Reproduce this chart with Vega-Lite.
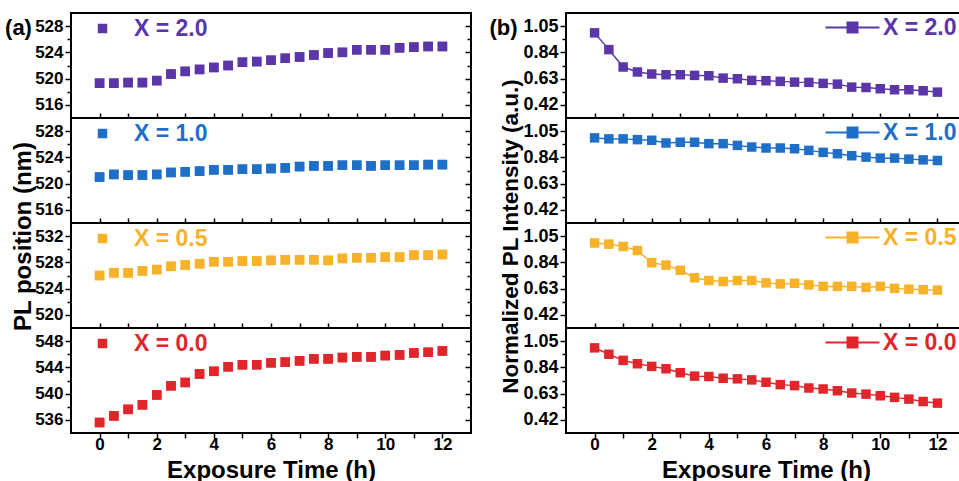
{
"$schema": "https://vega.github.io/schema/vega-lite/v6.json",
"background": "white",
"padding": {"left": 3, "top": 12, "right": 0, "bottom": 0},
"config": {
 "font": "Liberation Sans",
 "view": {"stroke": "#000", "strokeWidth": 2},
 "axis": {"domain": false, "grid": false, "tickColor": "#000", "tickWidth": 1.5, "labelFont": "Liberation Sans", "labelFontSize": 17, "labelFontWeight": "bold", "labelColor": "#000", "labelPadding": 2, "titleFont": "Liberation Sans", "titleFontSize": 24, "titleFontWeight": "bold", "titleColor": "#000"},
 "legend": {"orient": "none", "title": null, "padding": 0, "labelFont": "Liberation Sans", "labelFontSize": 23, "labelFontWeight": "bold", "symbolOpacity": 1}
},
"datasets": {
 "pos": [
  {"series":"X = 2.0","t":0,"v":519.3},{"series":"X = 2.0","t":0.5,"v":519.3},{"series":"X = 2.0","t":1,"v":519.4},{"series":"X = 2.0","t":1.5,"v":519.4},{"series":"X = 2.0","t":2,"v":519.7},{"series":"X = 2.0","t":2.5,"v":520.7},{"series":"X = 2.0","t":3,"v":521.1},{"series":"X = 2.0","t":3.5,"v":521.4},{"series":"X = 2.0","t":4,"v":521.7},{"series":"X = 2.0","t":4.5,"v":522.0},{"series":"X = 2.0","t":5,"v":522.5},{"series":"X = 2.0","t":5.5,"v":522.6},{"series":"X = 2.0","t":6,"v":522.8},{"series":"X = 2.0","t":6.5,"v":523.1},{"series":"X = 2.0","t":7,"v":523.3},{"series":"X = 2.0","t":7.5,"v":523.6},{"series":"X = 2.0","t":8,"v":523.9},{"series":"X = 2.0","t":8.5,"v":524.0},{"series":"X = 2.0","t":9,"v":524.4},{"series":"X = 2.0","t":9.5,"v":524.4},{"series":"X = 2.0","t":10,"v":524.4},{"series":"X = 2.0","t":10.5,"v":524.7},{"series":"X = 2.0","t":11,"v":524.8},{"series":"X = 2.0","t":11.5,"v":524.9},{"series":"X = 2.0","t":12,"v":524.9},
  {"series":"X = 1.0","t":0,"v":521.0},{"series":"X = 1.0","t":0.5,"v":521.4},{"series":"X = 1.0","t":1,"v":521.3},{"series":"X = 1.0","t":1.5,"v":521.3},{"series":"X = 1.0","t":2,"v":521.4},{"series":"X = 1.0","t":2.5,"v":521.7},{"series":"X = 1.0","t":3,"v":521.8},{"series":"X = 1.0","t":3.5,"v":521.9},{"series":"X = 1.0","t":4,"v":522.1},{"series":"X = 1.0","t":4.5,"v":522.1},{"series":"X = 1.0","t":5,"v":522.2},{"series":"X = 1.0","t":5.5,"v":522.2},{"series":"X = 1.0","t":6,"v":522.3},{"series":"X = 1.0","t":6.5,"v":522.4},{"series":"X = 1.0","t":7,"v":522.6},{"series":"X = 1.0","t":7.5,"v":522.7},{"series":"X = 1.0","t":8,"v":522.7},{"series":"X = 1.0","t":8.5,"v":522.8},{"series":"X = 1.0","t":9,"v":522.8},{"series":"X = 1.0","t":9.5,"v":522.7},{"series":"X = 1.0","t":10,"v":522.8},{"series":"X = 1.0","t":10.5,"v":522.8},{"series":"X = 1.0","t":11,"v":522.8},{"series":"X = 1.0","t":11.5,"v":522.9},{"series":"X = 1.0","t":12,"v":522.9},
  {"series":"X = 0.5","t":0,"v":526.0},{"series":"X = 0.5","t":0.5,"v":526.4},{"series":"X = 0.5","t":1,"v":526.4},{"series":"X = 0.5","t":1.5,"v":526.7},{"series":"X = 0.5","t":2,"v":526.9},{"series":"X = 0.5","t":2.5,"v":527.4},{"series":"X = 0.5","t":3,"v":527.6},{"series":"X = 0.5","t":3.5,"v":527.8},{"series":"X = 0.5","t":4,"v":528.1},{"series":"X = 0.5","t":4.5,"v":528.1},{"series":"X = 0.5","t":5,"v":528.2},{"series":"X = 0.5","t":5.5,"v":528.2},{"series":"X = 0.5","t":6,"v":528.3},{"series":"X = 0.5","t":6.5,"v":528.4},{"series":"X = 0.5","t":7,"v":528.4},{"series":"X = 0.5","t":7.5,"v":528.4},{"series":"X = 0.5","t":8,"v":528.3},{"series":"X = 0.5","t":8.5,"v":528.6},{"series":"X = 0.5","t":9,"v":528.7},{"series":"X = 0.5","t":9.5,"v":528.7},{"series":"X = 0.5","t":10,"v":528.8},{"series":"X = 0.5","t":10.5,"v":528.8},{"series":"X = 0.5","t":11,"v":529.1},{"series":"X = 0.5","t":11.5,"v":529.1},{"series":"X = 0.5","t":12,"v":529.2},
  {"series":"X = 0.0","t":0,"v":535.6},{"series":"X = 0.0","t":0.5,"v":536.6},{"series":"X = 0.0","t":1,"v":537.6},{"series":"X = 0.0","t":1.5,"v":538.3},{"series":"X = 0.0","t":2,"v":539.8},{"series":"X = 0.0","t":2.5,"v":541.2},{"series":"X = 0.0","t":3,"v":541.7},{"series":"X = 0.0","t":3.5,"v":543.0},{"series":"X = 0.0","t":4,"v":543.4},{"series":"X = 0.0","t":4.5,"v":544.1},{"series":"X = 0.0","t":5,"v":544.4},{"series":"X = 0.0","t":5.5,"v":544.4},{"series":"X = 0.0","t":6,"v":544.7},{"series":"X = 0.0","t":6.5,"v":544.8},{"series":"X = 0.0","t":7,"v":545.0},{"series":"X = 0.0","t":7.5,"v":545.3},{"series":"X = 0.0","t":8,"v":545.3},{"series":"X = 0.0","t":8.5,"v":545.5},{"series":"X = 0.0","t":9,"v":545.6},{"series":"X = 0.0","t":9.5,"v":545.6},{"series":"X = 0.0","t":10,"v":545.8},{"series":"X = 0.0","t":10.5,"v":545.9},{"series":"X = 0.0","t":11,"v":546.2},{"series":"X = 0.0","t":11.5,"v":546.3},{"series":"X = 0.0","t":12,"v":546.5}
 ],
 "int": [
  {"series":"X = 2.0","t":0,"v":0.996},{"series":"X = 2.0","t":0.5,"v":0.862},{"series":"X = 2.0","t":1,"v":0.723},{"series":"X = 2.0","t":1.5,"v":0.683},{"series":"X = 2.0","t":2,"v":0.667},{"series":"X = 2.0","t":2.5,"v":0.661},{"series":"X = 2.0","t":3,"v":0.661},{"series":"X = 2.0","t":3.5,"v":0.656},{"series":"X = 2.0","t":4,"v":0.653},{"series":"X = 2.0","t":4.5,"v":0.634},{"series":"X = 2.0","t":5,"v":0.629},{"series":"X = 2.0","t":5.5,"v":0.616},{"series":"X = 2.0","t":6,"v":0.613},{"series":"X = 2.0","t":6.5,"v":0.608},{"series":"X = 2.0","t":7,"v":0.602},{"series":"X = 2.0","t":7.5,"v":0.600},{"series":"X = 2.0","t":8,"v":0.592},{"series":"X = 2.0","t":8.5,"v":0.586},{"series":"X = 2.0","t":9,"v":0.562},{"series":"X = 2.0","t":9.5,"v":0.559},{"series":"X = 2.0","t":10,"v":0.549},{"series":"X = 2.0","t":10.5,"v":0.541},{"series":"X = 2.0","t":11,"v":0.541},{"series":"X = 2.0","t":11.5,"v":0.533},{"series":"X = 2.0","t":12,"v":0.522},
  {"series":"X = 1.0","t":0,"v":0.996},{"series":"X = 1.0","t":0.5,"v":0.988},{"series":"X = 1.0","t":1,"v":0.988},{"series":"X = 1.0","t":1.5,"v":0.982},{"series":"X = 1.0","t":2,"v":0.977},{"series":"X = 1.0","t":2.5,"v":0.955},{"series":"X = 1.0","t":3,"v":0.961},{"series":"X = 1.0","t":3.5,"v":0.961},{"series":"X = 1.0","t":4,"v":0.950},{"series":"X = 1.0","t":4.5,"v":0.950},{"series":"X = 1.0","t":5,"v":0.936},{"series":"X = 1.0","t":5.5,"v":0.923},{"series":"X = 1.0","t":6,"v":0.915},{"series":"X = 1.0","t":6.5,"v":0.915},{"series":"X = 1.0","t":7,"v":0.909},{"series":"X = 1.0","t":7.5,"v":0.896},{"series":"X = 1.0","t":8,"v":0.880},{"series":"X = 1.0","t":8.5,"v":0.869},{"series":"X = 1.0","t":9,"v":0.853},{"series":"X = 1.0","t":9.5,"v":0.842},{"series":"X = 1.0","t":10,"v":0.834},{"series":"X = 1.0","t":10.5,"v":0.834},{"series":"X = 1.0","t":11,"v":0.826},{"series":"X = 1.0","t":11.5,"v":0.820},{"series":"X = 1.0","t":12,"v":0.815},
  {"series":"X = 0.5","t":0,"v":0.995},{"series":"X = 0.5","t":0.5,"v":0.986},{"series":"X = 0.5","t":1,"v":0.967},{"series":"X = 0.5","t":1.5,"v":0.935},{"series":"X = 0.5","t":2,"v":0.837},{"series":"X = 0.5","t":2.5,"v":0.818},{"series":"X = 0.5","t":3,"v":0.777},{"series":"X = 0.5","t":3.5,"v":0.717},{"series":"X = 0.5","t":4,"v":0.695},{"series":"X = 0.5","t":4.5,"v":0.687},{"series":"X = 0.5","t":5,"v":0.695},{"series":"X = 0.5","t":5.5,"v":0.695},{"series":"X = 0.5","t":6,"v":0.676},{"series":"X = 0.5","t":6.5,"v":0.668},{"series":"X = 0.5","t":7,"v":0.673},{"series":"X = 0.5","t":7.5,"v":0.660},{"series":"X = 0.5","t":8,"v":0.648},{"series":"X = 0.5","t":8.5,"v":0.648},{"series":"X = 0.5","t":9,"v":0.648},{"series":"X = 0.5","t":9.5,"v":0.640},{"series":"X = 0.5","t":10,"v":0.648},{"series":"X = 0.5","t":10.5,"v":0.632},{"series":"X = 0.5","t":11,"v":0.626},{"series":"X = 0.5","t":11.5,"v":0.621},{"series":"X = 0.5","t":12,"v":0.618},
  {"series":"X = 0.0","t":0,"v":0.996},{"series":"X = 0.0","t":0.5,"v":0.945},{"series":"X = 0.0","t":1,"v":0.896},{"series":"X = 0.0","t":1.5,"v":0.869},{"series":"X = 0.0","t":2,"v":0.848},{"series":"X = 0.0","t":2.5,"v":0.829},{"series":"X = 0.0","t":3,"v":0.797},{"series":"X = 0.0","t":3.5,"v":0.770},{"series":"X = 0.0","t":4,"v":0.767},{"series":"X = 0.0","t":4.5,"v":0.753},{"series":"X = 0.0","t":5,"v":0.748},{"series":"X = 0.0","t":5.5,"v":0.740},{"series":"X = 0.0","t":6,"v":0.721},{"series":"X = 0.0","t":6.5,"v":0.702},{"series":"X = 0.0","t":7,"v":0.694},{"series":"X = 0.0","t":7.5,"v":0.675},{"series":"X = 0.0","t":8,"v":0.667},{"series":"X = 0.0","t":8.5,"v":0.653},{"series":"X = 0.0","t":9,"v":0.635},{"series":"X = 0.0","t":9.5,"v":0.626},{"series":"X = 0.0","t":10,"v":0.613},{"series":"X = 0.0","t":10.5,"v":0.600},{"series":"X = 0.0","t":11,"v":0.586},{"series":"X = 0.0","t":11.5,"v":0.567},{"series":"X = 0.0","t":12,"v":0.554}
 ]
},
"spacing": 14,
"resolve": {"scale": {"color": "independent", "x": "independent", "y": "independent"}, "legend": {"color": "independent"}},
"hconcat": [
 {
  "spacing": 0, "bounds": "flush",
  "resolve": {"scale": {"color": "independent", "x": "independent", "y": "independent"}, "legend": {"color": "independent"}},
  "vconcat": [
   {
    "width": 400, "height": 105, "data": {"name": "pos"},
    "transform": [{"filter": "datum.series === 'X = 2.0'"}],
    "encoding": {
     "x": {"field": "t", "type": "quantitative", "scale": {"domain": [-1, 13], "nice": false, "zero": false}, "axis": {"values": [0,1,2,3,4,5,6,7,8,9,10,11,12], "labels": false, "title": null, "tickSize": -5}},
     "color": {"field": "series", "type": "nominal", "scale": {"range": ["#5a36a8"]}, "legend": {"legendX": 20, "legendY": 4, "symbolType": "square", "symbolSize": 90, "labelOffset": 20, "labelColor": "#5a36a8"}}
    },
    "layer": [
     {"mark": {"type": "point", "shape": "square", "filled": true, "size": 90, "opacity": 1},
      "encoding": {"y": {"field": "v", "type": "quantitative", "scale": {"domain": [514, 530], "nice": false, "zero": false}, "axis": {"values": [516,518,520,522,524,526,528], "labelExpr": "datum.value % 4 == 0 ? datum.label : ''", "tickSize": {"condition": {"test": "datum.value % 4 == 0", "value": 6}, "value": 4}, "title": "(a)", "titleAngle": 0, "titleAlign": "center", "titleBaseline": "middle", "titleX": -53, "titleY": 14, "titleFontSize": 22}}}},
     {"mark": {"type": "point", "shape": "square", "filled": true, "size": 90, "opacity": 1},
      "encoding": {"y": {"field": "v", "type": "quantitative", "scale": {"domain": [514, 530], "nice": false, "zero": false}, "axis": {"orient": "right", "values": [516,518,520,522,524,526,528], "labels": false, "title": null, "tickSize": {"condition": {"test": "datum.value % 4 == 0", "value": -6}, "value": -4}}}}}
    ],
    "resolve": {"axis": {"y": "independent"}}
   },
   {
    "width": 400, "height": 105, "data": {"name": "pos"},
    "transform": [{"filter": "datum.series === 'X = 1.0'"}],
    "encoding": {
     "x": {"field": "t", "type": "quantitative", "scale": {"domain": [-1, 13], "nice": false, "zero": false}, "axis": {"values": [0,1,2,3,4,5,6,7,8,9,10,11,12], "labels": false, "title": null, "tickSize": -5}},
     "color": {"field": "series", "type": "nominal", "scale": {"range": ["#1f6fc8"]}, "legend": {"legendX": 20, "legendY": 4, "symbolType": "square", "symbolSize": 90, "labelOffset": 20, "labelColor": "#1f6fc8"}}
    },
    "layer": [
     {"mark": {"type": "point", "shape": "square", "filled": true, "size": 90, "opacity": 1},
      "encoding": {"y": {"field": "v", "type": "quantitative", "scale": {"domain": [514, 530], "nice": false, "zero": false}, "axis": {"values": [516,518,520,522,524,526,528], "labelExpr": "datum.value % 4 == 0 ? datum.label : ''", "tickSize": {"condition": {"test": "datum.value % 4 == 0", "value": 6}, "value": 4}, "title": "PL  position (nm)", "titleX": -41, "titleY": 118, "titleAlign": "center", "titleBaseline": "alphabetic"}}}},
     {"mark": {"type": "point", "shape": "square", "filled": true, "size": 90, "opacity": 1},
      "encoding": {"y": {"field": "v", "type": "quantitative", "scale": {"domain": [514, 530], "nice": false, "zero": false}, "axis": {"orient": "right", "values": [516,518,520,522,524,526,528], "labels": false, "title": null, "tickSize": {"condition": {"test": "datum.value % 4 == 0", "value": -6}, "value": -4}}}}}
    ],
    "resolve": {"axis": {"y": "independent"}}
   },
   {
    "width": 400, "height": 105, "data": {"name": "pos"},
    "transform": [{"filter": "datum.series === 'X = 0.5'"}],
    "encoding": {
     "x": {"field": "t", "type": "quantitative", "scale": {"domain": [-1, 13], "nice": false, "zero": false}, "axis": {"values": [0,1,2,3,4,5,6,7,8,9,10,11,12], "labels": false, "title": null, "tickSize": -5}},
     "color": {"field": "series", "type": "nominal", "scale": {"range": ["#f7b22a"]}, "legend": {"legendX": 20, "legendY": 4, "symbolType": "square", "symbolSize": 90, "labelOffset": 20, "labelColor": "#f7b22a"}}
    },
    "layer": [
     {"mark": {"type": "point", "shape": "square", "filled": true, "size": 90, "opacity": 1},
      "encoding": {"y": {"field": "v", "type": "quantitative", "scale": {"domain": [518, 534], "nice": false, "zero": false}, "axis": {"values": [520,522,524,526,528,530,532], "labelExpr": "datum.value % 4 == 0 ? datum.label : ''", "tickSize": {"condition": {"test": "datum.value % 4 == 0", "value": 6}, "value": 4}, "title": null}}}},
     {"mark": {"type": "point", "shape": "square", "filled": true, "size": 90, "opacity": 1},
      "encoding": {"y": {"field": "v", "type": "quantitative", "scale": {"domain": [518, 534], "nice": false, "zero": false}, "axis": {"orient": "right", "values": [520,522,524,526,528,530,532], "labels": false, "title": null, "tickSize": {"condition": {"test": "datum.value % 4 == 0", "value": -6}, "value": -4}}}}}
    ],
    "resolve": {"axis": {"y": "independent"}}
   },
   {
    "width": 400, "height": 105, "data": {"name": "pos"},
    "transform": [{"filter": "datum.series === 'X = 0.0'"}],
    "encoding": {
     "x": {"field": "t", "type": "quantitative", "scale": {"domain": [-1, 13], "nice": false, "zero": false}, "axis": {"values": [0,1,2,3,4,5,6,7,8,9,10,11,12], "labelExpr": "datum.value % 2 == 0 ? datum.label : ''", "tickSize": 5, "labelPadding": -2, "title": "Exposure Time (h)", "titlePadding": 6}},
     "color": {"field": "series", "type": "nominal", "scale": {"range": ["#e0262b"]}, "legend": {"legendX": 20, "legendY": 4, "symbolType": "square", "symbolSize": 90, "labelOffset": 20, "labelColor": "#e0262b"}}
    },
    "layer": [
     {"mark": {"type": "point", "shape": "square", "filled": true, "size": 90, "opacity": 1},
      "encoding": {"y": {"field": "v", "type": "quantitative", "scale": {"domain": [534, 550], "nice": false, "zero": false}, "axis": {"values": [536,538,540,542,544,546,548], "labelExpr": "datum.value % 4 == 0 ? datum.label : ''", "tickSize": {"condition": {"test": "datum.value % 4 == 0", "value": 6}, "value": 4}, "title": null}}}},
     {"mark": {"type": "point", "shape": "square", "filled": true, "size": 90, "opacity": 1},
      "encoding": {"y": {"field": "v", "type": "quantitative", "scale": {"domain": [534, 550], "nice": false, "zero": false}, "axis": {"orient": "right", "values": [536,538,540,542,544,546,548], "labels": false, "title": null, "tickSize": {"condition": {"test": "datum.value % 4 == 0", "value": -6}, "value": -4}}}}}
    ],
    "resolve": {"axis": {"y": "independent"}}
   }
  ]
 },
 {
  "spacing": 0, "bounds": "flush",
  "resolve": {"scale": {"color": "independent", "x": "independent", "y": "independent"}, "legend": {"color": "independent"}},
  "vconcat": [
   {
    "width": 400, "height": 105, "data": {"name": "int"},
    "transform": [{"filter": "datum.series === 'X = 2.0'"}],
    "encoding": {
     "x": {"field": "t", "type": "quantitative", "scale": {"domain": [-1, 13], "nice": false, "zero": false}, "axis": {"values": [0,1,2,3,4,5,6,7,8,9,10,11,12], "labels": false, "title": null, "tickSize": -5}},
     "color": {"field": "series", "type": "nominal", "scale": {"range": ["#5a36a8"]}, "legend": {"legendX": 275, "legendY": 3, "symbolType": "M-5.4,0H5.4M-1,-1H1V1H-1Z", "symbolSize": 100, "labelOffset": 19, "labelColor": "#5a36a8", "encode": {"symbols": {"update": {"fill": {"value": "#5a36a8"}, "stroke": {"value": "#5a36a8"}, "strokeWidth": {"value": 2}, "opacity": {"value": 1}}}}}}
    },
    "layer": [
     {"mark": {"type": "line", "strokeWidth": 1.5},
      "encoding": {"y": {"field": "v", "type": "quantitative", "scale": {"domain": [0.315, 1.155], "nice": false, "zero": false}, "axis": {"values": [0.42,0.525,0.63,0.735,0.84,0.945,1.05], "format": ".2f", "labelFontSize": 18, "labelExpr": "round(datum.value*200) % 42 == 0 ? datum.label : ''", "tickSize": {"condition": {"test": "round(datum.value*200) % 42 == 0", "value": 6}, "value": 4}, "title": "(b)", "titleAngle": 0, "titleAlign": "center", "titleBaseline": "middle", "titleX": -63, "titleY": 14, "titleFontSize": 22}}}},
     {"mark": {"type": "point", "shape": "square", "filled": true, "size": 90, "opacity": 1},
      "encoding": {"y": {"field": "v", "type": "quantitative", "scale": {"domain": [0.315, 1.155], "nice": false, "zero": false}, "axis": {"orient": "right", "values": [0.42,0.525,0.63,0.735,0.84,0.945,1.05], "labels": false, "title": null, "tickSize": {"condition": {"test": "round(datum.value*200) % 42 == 0", "value": -6}, "value": -4}}}}}
    ],
    "resolve": {"axis": {"y": "independent"}}
   },
   {
    "width": 400, "height": 105, "data": {"name": "int"},
    "transform": [{"filter": "datum.series === 'X = 1.0'"}],
    "encoding": {
     "x": {"field": "t", "type": "quantitative", "scale": {"domain": [-1, 13], "nice": false, "zero": false}, "axis": {"values": [0,1,2,3,4,5,6,7,8,9,10,11,12], "labels": false, "title": null, "tickSize": -5}},
     "color": {"field": "series", "type": "nominal", "scale": {"range": ["#1f6fc8"]}, "legend": {"legendX": 275, "legendY": 3, "symbolType": "M-5.4,0H5.4M-1,-1H1V1H-1Z", "symbolSize": 100, "labelOffset": 19, "labelColor": "#1f6fc8", "encode": {"symbols": {"update": {"fill": {"value": "#1f6fc8"}, "stroke": {"value": "#1f6fc8"}, "strokeWidth": {"value": 2}, "opacity": {"value": 1}}}}}}
    },
    "layer": [
     {"mark": {"type": "line", "strokeWidth": 1.5},
      "encoding": {"y": {"field": "v", "type": "quantitative", "scale": {"domain": [0.315, 1.155], "nice": false, "zero": false}, "axis": {"values": [0.42,0.525,0.63,0.735,0.84,0.945,1.05], "format": ".2f", "labelFontSize": 18, "labelExpr": "round(datum.value*200) % 42 == 0 ? datum.label : ''", "tickSize": {"condition": {"test": "round(datum.value*200) % 42 == 0", "value": 6}, "value": 4}, "title": "Normalized PL Intensity (a.u.)", "titleFontSize": 22.5, "titleX": -49, "titleY": 118, "titleAlign": "center", "titleBaseline": "alphabetic"}}}},
     {"mark": {"type": "point", "shape": "square", "filled": true, "size": 90, "opacity": 1},
      "encoding": {"y": {"field": "v", "type": "quantitative", "scale": {"domain": [0.315, 1.155], "nice": false, "zero": false}, "axis": {"orient": "right", "values": [0.42,0.525,0.63,0.735,0.84,0.945,1.05], "labels": false, "title": null, "tickSize": {"condition": {"test": "round(datum.value*200) % 42 == 0", "value": -6}, "value": -4}}}}}
    ],
    "resolve": {"axis": {"y": "independent"}}
   },
   {
    "width": 400, "height": 105, "data": {"name": "int"},
    "transform": [{"filter": "datum.series === 'X = 0.5'"}],
    "encoding": {
     "x": {"field": "t", "type": "quantitative", "scale": {"domain": [-1, 13], "nice": false, "zero": false}, "axis": {"values": [0,1,2,3,4,5,6,7,8,9,10,11,12], "labels": false, "title": null, "tickSize": -5}},
     "color": {"field": "series", "type": "nominal", "scale": {"range": ["#f7b22a"]}, "legend": {"legendX": 275, "legendY": 3, "symbolType": "M-5.4,0H5.4M-1,-1H1V1H-1Z", "symbolSize": 100, "labelOffset": 19, "labelColor": "#f7b22a", "encode": {"symbols": {"update": {"fill": {"value": "#f7b22a"}, "stroke": {"value": "#f7b22a"}, "strokeWidth": {"value": 2}, "opacity": {"value": 1}}}}}}
    },
    "layer": [
     {"mark": {"type": "line", "strokeWidth": 1.5},
      "encoding": {"y": {"field": "v", "type": "quantitative", "scale": {"domain": [0.315, 1.155], "nice": false, "zero": false}, "axis": {"values": [0.42,0.525,0.63,0.735,0.84,0.945,1.05], "format": ".2f", "labelFontSize": 18, "labelExpr": "round(datum.value*200) % 42 == 0 ? datum.label : ''", "tickSize": {"condition": {"test": "round(datum.value*200) % 42 == 0", "value": 6}, "value": 4}, "title": null}}}},
     {"mark": {"type": "point", "shape": "square", "filled": true, "size": 90, "opacity": 1},
      "encoding": {"y": {"field": "v", "type": "quantitative", "scale": {"domain": [0.315, 1.155], "nice": false, "zero": false}, "axis": {"orient": "right", "values": [0.42,0.525,0.63,0.735,0.84,0.945,1.05], "labels": false, "title": null, "tickSize": {"condition": {"test": "round(datum.value*200) % 42 == 0", "value": -6}, "value": -4}}}}}
    ],
    "resolve": {"axis": {"y": "independent"}}
   },
   {
    "width": 400, "height": 105, "data": {"name": "int"},
    "transform": [{"filter": "datum.series === 'X = 0.0'"}],
    "encoding": {
     "x": {"field": "t", "type": "quantitative", "scale": {"domain": [-1, 13], "nice": false, "zero": false}, "axis": {"values": [0,1,2,3,4,5,6,7,8,9,10,11,12], "labelExpr": "datum.value % 2 == 0 ? datum.label : ''", "tickSize": 5, "labelPadding": -2, "title": "Exposure Time (h)", "titlePadding": 6}},
     "color": {"field": "series", "type": "nominal", "scale": {"range": ["#e0262b"]}, "legend": {"legendX": 275, "legendY": 3, "symbolType": "M-5.4,0H5.4M-1,-1H1V1H-1Z", "symbolSize": 100, "labelOffset": 19, "labelColor": "#e0262b", "encode": {"symbols": {"update": {"fill": {"value": "#e0262b"}, "stroke": {"value": "#e0262b"}, "strokeWidth": {"value": 2}, "opacity": {"value": 1}}}}}}
    },
    "layer": [
     {"mark": {"type": "line", "strokeWidth": 1.5},
      "encoding": {"y": {"field": "v", "type": "quantitative", "scale": {"domain": [0.315, 1.155], "nice": false, "zero": false}, "axis": {"values": [0.42,0.525,0.63,0.735,0.84,0.945,1.05], "format": ".2f", "labelFontSize": 18, "labelExpr": "round(datum.value*200) % 42 == 0 ? datum.label : ''", "tickSize": {"condition": {"test": "round(datum.value*200) % 42 == 0", "value": 6}, "value": 4}, "title": null}}}},
     {"mark": {"type": "point", "shape": "square", "filled": true, "size": 90, "opacity": 1},
      "encoding": {"y": {"field": "v", "type": "quantitative", "scale": {"domain": [0.315, 1.155], "nice": false, "zero": false}, "axis": {"orient": "right", "values": [0.42,0.525,0.63,0.735,0.84,0.945,1.05], "labels": false, "title": null, "tickSize": {"condition": {"test": "round(datum.value*200) % 42 == 0", "value": -6}, "value": -4}}}}}
    ],
    "resolve": {"axis": {"y": "independent"}}
   }
  ]
 }
]
}
